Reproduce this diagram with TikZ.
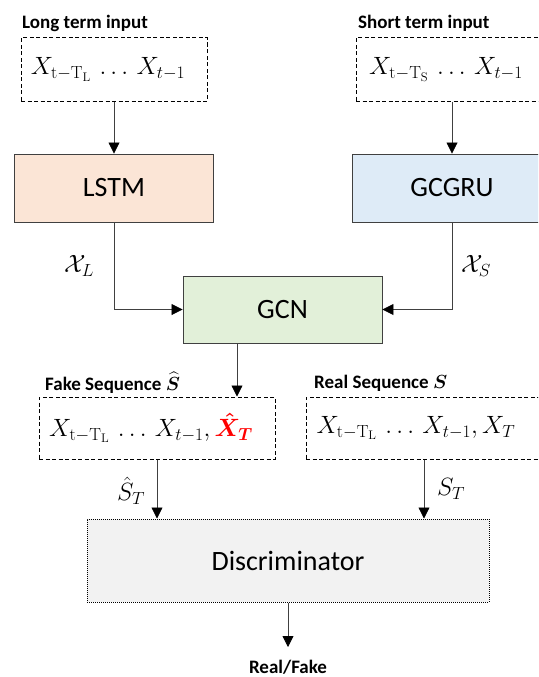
\RequirePackage{fix-cm}
\documentclass[tikz,border=0pt]{standalone}
\usepackage{amsmath,bm}
\usepackage[no-math]{fontspec}
\setmainfont{Carlito}
\usetikzlibrary{arrows.meta,calc}
\definecolor{lstmfill}{HTML}{FBE5D6}
\definecolor{gcgrufill}{HTML}{DEEBF7}
\definecolor{gcnfill}{HTML}{E2F0D9}
\definecolor{discfill}{HTML}{F2F2F2}
\definecolor{linegray}{HTML}{404040}
\definecolor{hotred}{HTML}{FF0000}
\newcommand{\padright}{\hspace*{12pt}}
\begin{document}
\begin{tikzpicture}[x=1pt,y=-1pt,
  solidbox/.style={draw=linegray, line width=0.9pt, inner sep=0pt, font=\fontsize{28}{30}\selectfont},
  dashbox/.style={draw=black, line width=1pt, dash pattern=on 4pt off 2.5pt, inner sep=0pt, font=\fontsize{25}{28}\selectfont},
  dotbox/.style={draw=black, line width=1pt, dash pattern=on 1pt off 1pt, fill=discfill, inner sep=0pt, font=\fontsize{28}{30}\selectfont},
  arr/.style={draw=linegray, line width=0.8pt, -{Triangle[length=11pt,width=11pt,black]}},
  titletext/.style={font=\bfseries\fontsize{19}{22}\selectfont, anchor=west, inner sep=0pt},
  mathlabel/.style={font=\fontsize{25}{28}\selectfont, inner sep=0pt}
]
\useasboundingbox (0,0) rectangle (538,677);
\clip (0,0) rectangle (538,677);

% titles
\node[titletext] (tlong) at (22,23) {Long term input};
\node[titletext] (tshort) at (358,23) {Short term input};
\node[titletext] (tfake) at (45,383) {Fake Sequence $\bm{\widehat{S}}$};
\node[titletext] (treal) at (314,383) {Real Sequence $\bm{S}$};

% input boxes
\node[dashbox, minimum width=186pt, minimum height=63pt] (long) at (114,69.5)
  {$X_{\mathrm{t}-\mathrm{T}_{\mathrm{L}}}\,\ldots\,X_{t-1}$\padright};
\node[dashbox, minimum width=186pt, minimum height=63pt] (short) at (449,69.5)
  {$X_{\mathrm{t}-\mathrm{T}_{\mathrm{S}}}\,\ldots\,X_{t-1}$\hspace*{6pt}};

% processing boxes
\node[solidbox, fill=lstmfill, minimum width=199pt, minimum height=68pt] (lstm) at (114,188) {LSTM};
\node[solidbox, fill=gcgrufill, minimum width=200pt, minimum height=68pt] (gcgru) at (452,188) {GCGRU};
\node[solidbox, fill=gcnfill, minimum width=199pt, minimum height=67pt] (gcn) at (282.5,309.5) {GCN};

% sequence boxes
\node[dashbox, minimum width=236pt, minimum height=62pt] (fake) at (157,428)
  {$X_{\mathrm{t}-\mathrm{T}_{\mathrm{L}}}\,\ldots\,X_{t-1},{\color{hotred}\bm{\hat{X}}_{\bm{T}}}$\padright};
\node[dashbox, minimum width=236pt, minimum height=62pt] (real) at (424,428)
  {$X_{\mathrm{t}-\mathrm{T}_{\mathrm{L}}}\,\ldots\,X_{t-1},X_T$\hspace*{16pt}};

% discriminator
\node[dotbox, minimum width=402pt, minimum height=83pt] (disc) at (288,560.5) {Discriminator};
\node[titletext, anchor=center] (out) at (288,667) {Real/Fake};
\coordinate (outend) at (288,647);

% connectors
\draw[arr] (long.south) -- (lstm.north);
\draw[arr] (gcgru.north |- short.south) -- (gcgru.north);
\draw[arr] (lstm.south) |- (gcn.west);
\draw[arr] (gcgru.south) |- (gcn.east);
\draw[arr] ([xshift=-45.5pt]gcn.south) -- ([xshift=-45.5pt]gcn.south |- fake.north);
\draw[arr] (fake.south) -- (fake.south |- disc.north);
\draw[arr] (real.south) -- (real.south |- disc.north);
\draw[arr] (disc.south) -- (outend);

% labels
\node[mathlabel] (xl) at (79,266) {$\mathcal{X}_L$};
\node[mathlabel] (xs) at (476,266) {$\mathcal{X}_S$};
\node[mathlabel] (sthat) at (131,491) {$\hat{S}_T$};
\node[mathlabel] (st) at (451,489) {$S_T$};
\end{tikzpicture}
\end{document}
